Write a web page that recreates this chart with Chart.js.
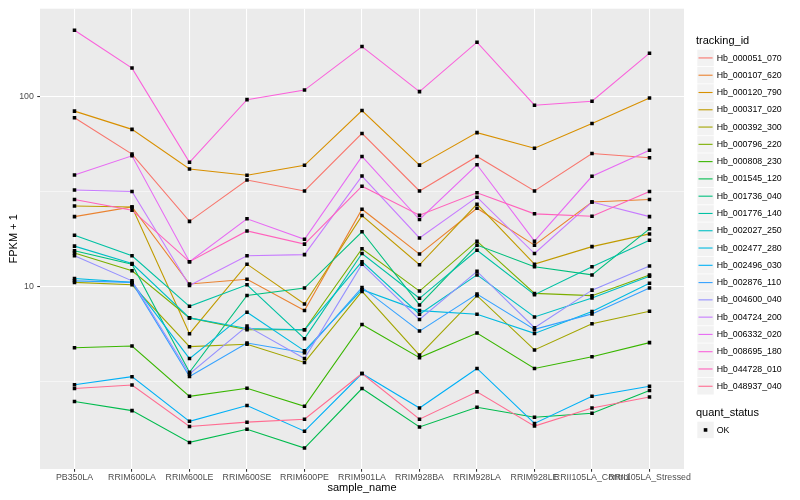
<!DOCTYPE html>
<html>
<head>
<meta charset="utf-8">
<script src="https://cdn.jsdelivr.net/npm/chart.js@4.4.1/dist/chart.umd.min.js"></script>
<style>
  html, body { margin: 0; padding: 0; background: #ffffff; }
  #wrap { position: relative; width: 800px; height: 500px; overflow: hidden; font-family: "Liberation Sans", Arial, Helvetica, sans-serif; }
  #c { position: absolute; left: 0; top: 0; }
  .lg-title { position: absolute; font-size: 11px; line-height: 13px; color: #000; white-space: nowrap; }
  .lg-text { position: absolute; font-size: 8.8px; line-height: 11px; color: #000; white-space: nowrap; }
</style>
</head>
<body>
<div id="wrap">
  <canvas id="c" width="800" height="500"></canvas>
  <div id="legend"></div>
</div>
<script>
// ---------------- data ----------------
const categories = ["PB350LA","RRIM600LA","RRIM600LE","RRIM600SE","RRIM600PE","RRIM901LA","RRIM928BA","RRIM928LA","RRIM928LE","RRII105LA_Control","RRII105LA_Stressed"];

const trackingIds = ["Hb_000051_070","Hb_000107_620","Hb_000120_790","Hb_000317_020","Hb_000392_300","Hb_000796_220","Hb_000808_230","Hb_001545_120","Hb_001736_040","Hb_001776_140","Hb_002027_250","Hb_002477_280","Hb_002496_030","Hb_002876_110","Hb_004600_040","Hb_004724_200","Hb_006332_020","Hb_008695_180","Hb_044728_010","Hb_048937_040"];

const seriesColors = ["#F8766D","#EA8331","#D89000","#C09B00","#A3A500","#7CAE00","#39B600","#00BB4E","#00BF7D","#00C1A3","#00BFC4","#00BAE0","#00B0F6","#35A2FF","#9590FF","#C77CFF","#E76BF3","#FA62DB","#FF62BC","#FF6C91"];

const hb_000051_070 = [77.2, 49.7, 22.0, 36.3, 31.8, 63.9, 31.8, 48.3, 31.8, 50.1, 47.6];
const hb_000107_620 = [23.3, 26.2, 10.3, 10.9, 7.46, 25.5, 14.8, 25.8, 16.5, 27.8, 28.7];
const hb_000120_790 = [83.7, 67.1, 41.5, 38.5, 43.4, 84.3, 43.5, 64.5, 53.4, 72.1, 98.2];
const hb_000317_020 = [26.5, 26.2, 5.64, 13.1, 8.08, 23.6, 13.0, 27.1, 13.1, 16.2, 18.9];
const hb_000392_300 = [10.5, 10.2, 4.82, 4.96, 3.98, 9.42, 4.35, 8.94, 4.63, 6.36, 7.40];
const hb_000796_220 = [15.0, 12.1, 6.83, 5.91, 5.91, 15.8, 9.45, 17.3, 9.19, 8.94, 11.5];
const hb_000808_230 = [4.76, 4.86, 2.64, 2.91, 2.34, 6.31, 4.22, 5.68, 3.70, 4.26, 5.06];
const hb_001545_120 = [2.48, 2.22, 1.51, 1.77, 1.41, 2.90, 1.82, 2.31, 2.05, 2.15, 2.83];
const hb_001736_040 = [15.4, 13.1, 3.53, 8.97, 9.80, 19.4, 7.99, 16.5, 12.7, 11.5, 20.1];
const hb_001776_140 = [18.6, 14.5, 7.86, 10.2, 5.31, 14.9, 8.66, 15.5, 9.05, 12.7, 17.5];
const hb_002027_250 = [16.3, 13.2, 6.83, 6.01, 5.91, 13.5, 7.14, 11.5, 6.91, 8.69, 11.3];
const hb_002477_280 = [11.0, 10.5, 4.17, 7.32, 4.58, 9.61, 7.46, 7.14, 5.66, 7.38, 10.4];
const hb_002496_030 = [3.04, 3.35, 1.95, 2.36, 1.73, 3.48, 2.29, 3.70, 1.90, 2.64, 2.98];
const hb_002876_110 = [10.7, 10.5, 3.36, 5.04, 4.48, 9.88, 5.82, 9.12, 5.94, 7.17, 9.80];
const hb_004600_040 = [14.5, 10.7, 3.46, 6.18, 4.17, 13.1, 6.70, 12.0, 6.06, 9.56, 12.8];
const hb_004724_200 = [32.2, 31.6, 10.1, 14.5, 14.7, 38.1, 18.0, 29.5, 14.9, 27.8, 23.3];
const hb_006332_020 = [38.6, 48.7, 13.5, 22.7, 17.7, 48.3, 22.5, 43.7, 17.3, 38.0, 52.1];
const hb_008695_180 = [223, 141, 45.0, 96.2, 108, 183, 106, 193, 89.9, 94.4, 169];
const hb_044728_010 = [28.7, 25.2, 13.5, 19.6, 16.7, 33.7, 23.7, 31.1, 24.1, 23.4, 31.6];
const hb_048937_040 = [2.90, 3.03, 1.83, 1.93, 2.00, 3.48, 2.00, 2.79, 1.84, 2.29, 2.62];

const seriesValues = [hb_000051_070, hb_000107_620, hb_000120_790, hb_000317_020, hb_000392_300, hb_000796_220, hb_000808_230, hb_001545_120, hb_001736_040, hb_001776_140, hb_002027_250, hb_002477_280, hb_002496_030, hb_002876_110, hb_004600_040, hb_004724_200, hb_006332_020, hb_008695_180, hb_044728_010, hb_048937_040];

const yMajorTicks = [10, 100];
const yMinorTicks = [3.1623, 31.623];
const yTickLabels = ["10", "100"];
const quantStatus = ["OK"];

// ---------------- chart ----------------
Chart.defaults.font.family = '"Liberation Sans", Arial, Helvetica, sans-serif';

const toPoints = arr => arr.map((v, i) => ({ x: i, y: v }));

const datasets = [];
seriesValues.forEach((vals, i) => {
  datasets.push({
    label: trackingIds[i],
    data: toPoints(vals),
    borderColor: seriesColors[i],
    borderWidth: 1.1,
    pointRadius: 0,
    fill: false,
    tension: 0,
    order: 100 - i
  });
});
seriesValues.forEach((vals, i) => {
  datasets.push({
    label: trackingIds[i] + ' OK',
    data: toPoints(vals),
    showLine: false,
    pointStyle: 'rect',
    pointRadius: 2.5,
    pointBackgroundColor: '#000000',
    pointBorderWidth: 0,
    borderColor: '#000000',
    order: -1
  });
});

// legend key geometry
const keyX = 697.3, keySize = 17.28, keyTop0 = 49.3, okTop0 = 421.3;

const panelBg = {
  id: 'panelBg',
  beforeDraw(chart) {
    const { ctx, chartArea: a } = chart;
    ctx.save();
    ctx.fillStyle = '#ffffff';
    ctx.fillRect(0, 0, chart.width, chart.height);
    ctx.fillStyle = '#EBEBEB';
    ctx.fillRect(a.left, a.top, a.right - a.left, a.bottom - a.top);
    ctx.restore();
  },
  afterDraw(chart) {
    const ctx = chart.ctx;
    ctx.save();
    seriesColors.forEach((col, i) => {
      const t = keyTop0 + keySize * i;
      ctx.fillStyle = '#F2F2F2';
      ctx.fillRect(keyX, t + 0.4, keySize - 0.8, keySize - 0.8);
      ctx.strokeStyle = col;
      ctx.lineWidth = 1.1;
      ctx.beginPath();
      ctx.moveTo(keyX + 1.2, t + keySize / 2);
      ctx.lineTo(keyX + keySize - 2, t + keySize / 2);
      ctx.stroke();
    });
    quantStatus.forEach((q, i) => {
      const t = okTop0 + keySize * i;
      ctx.fillStyle = '#F2F2F2';
      ctx.fillRect(keyX, t + 0.4, keySize - 0.8, keySize - 0.8);
      ctx.fillStyle = '#000000';
      const s = 3.6;
      ctx.fillRect(keyX + (keySize - 0.8) / 2 - s / 2, t + keySize / 2 - s / 2, s, s);
    });
    ctx.restore();
  }
};

const isMinorY = v => yMinorTicks.some(m => Math.abs(m - v) < 1e-6);

new Chart(document.getElementById('c'), {
  type: 'line',
  data: { datasets },
  plugins: [panelBg],
  options: {
    responsive: false,
    animation: false,
    events: [],
    layout: { padding: { left: 0, right: 116, top: 5, bottom: 0 } },
    plugins: { legend: { display: false }, tooltip: { enabled: false } },
    scales: {
      x: {
        type: 'linear',
        min: -0.6,
        max: categories.length - 1 + 0.6,
        afterBuildTicks: s => { s.ticks = categories.map((c, i) => ({ value: i })); },
        afterFit: s => { s.height = 31; },
        ticks: {
          autoSkip: false, maxRotation: 0, minRotation: 0,
          color: '#4D4D4D', font: { size: 8.8 }, padding: 1,
          callback: v => categories[v]
        },
        grid: { color: '#FFFFFF', lineWidth: 1.07, tickLength: 2.75, tickColor: '#333333', tickWidth: 1.07 },
        border: { display: false },
        title: { display: true, text: 'sample_name', color: '#000000', font: { size: 11 }, padding: { top: 0, bottom: 5 } }
      },
      y: {
        type: 'logarithmic',
        min: 1.094,
        max: 289.7,
        afterBuildTicks: s => { s.ticks = yMinorTicks.concat(yMajorTicks).sort((a, b) => a - b).map(v => ({ value: v })); },
        afterFit: s => { s.width = 40; },
        ticks: {
          color: '#4D4D4D', font: { size: 8.8 }, padding: 3.4,
          callback: v => { const k = yMajorTicks.indexOf(v); return k >= 0 ? yTickLabels[k] : ''; }
        },
        grid: {
          color: '#FFFFFF',
          lineWidth: c => (c.tick && isMinorY(c.tick.value)) ? 0.53 : 1.07,
          tickLength: 2.75,
          tickColor: c => (c.tick && isMinorY(c.tick.value)) ? 'rgba(0,0,0,0)' : '#333333',
          tickWidth: 1.07
        },
        border: { display: false },
        title: { display: true, text: 'FPKM + 1', color: '#000000', font: { size: 11 }, padding: { top: 7, bottom: 0 } }
      }
    }
  }
});

// ---------------- legend text (HTML) ----------------
const lg = document.getElementById('legend');
function add(html) { lg.insertAdjacentHTML('beforeend', html); }
add(`<div class="lg-title" style="left:696px;top:34.2px">tracking_id</div>`);
trackingIds.forEach((id, i) => {
  const top = keyTop0 + keySize * i;
  add(`<div class="lg-text" style="left:716.7px;top:${top + 3.2}px">${id}</div>`);
});
add(`<div class="lg-title" style="left:696px;top:405.5px">quant_status</div>`);
quantStatus.forEach((q, i) => {
  const top = okTop0 + keySize * i;
  add(`<div class="lg-text" style="left:716.7px;top:${top + 3.2}px">${q}</div>`);
});
</script>
</body>
</html>
